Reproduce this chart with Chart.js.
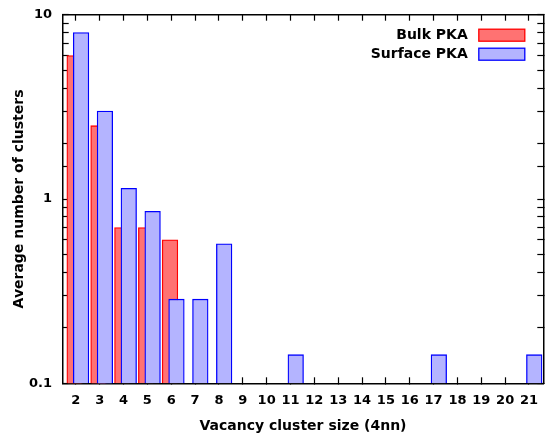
<!DOCTYPE html>
<html>
<head>
<meta charset="utf-8">
<script src="https://cdn.jsdelivr.net/npm/chart.js@4.4.0/dist/chart.umd.min.js"></script>
<style>
  html, body { margin: 0; padding: 0; background: #fff; }
</style>
</head>
<body>
<canvas id="clusterChart" width="549" height="436"></canvas>
<script>
// vacancy cluster sizes on the x axis
const clusterSizes = [2, 3, 4, 5, 6, 7, 8, 9, 10, 11, 12, 13, 14, 15, 16, 17, 18, 19, 20, 21];
// average number of clusters per cascade
const bulkPka    = [6.0, 2.5, 0.7, 0.7, 0.6, 0, 0, 0, 0, 0, 0, 0, 0, 0, 0, 0, 0, 0, 0, 0];
const surfacePka = [8.0, 3.0, 1.143, 0.857, 0.286, 0.286, 0.571, 0, 0, 0.143, 0, 0, 0, 0, 0, 0.143, 0, 0, 0, 0.143];
const yTickLabels = [0.1, 1, 10];

const fontFamily = "'DejaVu Sans', sans-serif";
Chart.defaults.font.family = fontFamily;
Chart.defaults.font.weight = 'bold';
Chart.defaults.color = '#000';

// the two series are drawn slightly apart and overlapping, like gnuplot does
const bulkShift = -0.05;
const surfaceShift = 0.22;

function toPoints(values, shift) {
    return values.map((v, i) => ({ x: clusterSizes[i] + shift, y: v }));
}

const tickMarks = {
    display: true,
    offset: false,
    drawOnChartArea: false,
    drawTicks: true,
    tickLength: -6,
    tickColor: '#000',
    tickWidth: 1.2
};
const frame = { display: true, color: '#000', width: 1.5 };

const insideLegend = {
    id: 'insideLegend',
    afterDraw(chart) {
        const { ctx, chartArea } = chart;
        ctx.save();
        ctx.font = `bold 14px ${fontFamily}`;
        ctx.textAlign = 'right';
        ctx.textBaseline = 'middle';
        chart.data.datasets.forEach((ds, i) => {
            const boxRight = chartArea.right - 18.5;
            const boxTop = chartArea.top + 14.5 + i * 19;
            ctx.fillStyle = ds.backgroundColor;
            ctx.fillRect(boxRight - 46, boxTop, 46, 12);
            ctx.strokeStyle = ds.borderColor;
            ctx.lineWidth = 1.3;
            ctx.strokeRect(boxRight - 46, boxTop, 46, 12);
            ctx.fillStyle = '#000';
            ctx.fillText(ds.label, boxRight - 57, boxTop + 6.5);
        });
        ctx.restore();
    }
};

const ctx = document.getElementById('clusterChart').getContext('2d');
new Chart(ctx, {
    type: 'bar',
    data: {
        datasets: [{
            label: 'Bulk PKA',
            data: toPoints(bulkPka, bulkShift),
            backgroundColor: '#ff7272',
            borderColor: '#ff0000',
            borderWidth: 1.3,
            order: 2
        }, {
            label: 'Surface PKA',
            data: toPoints(surfacePka, surfaceShift),
            backgroundColor: '#b4b4ff',
            borderColor: '#0000ff',
            borderWidth: 1.3,
            order: 1
        }]
    },
    options: {
        responsive: false,
        animation: false,
        grouped: false,
        barThickness: 15.6,
        layout: { padding: 0 },
        plugins: {
            legend: { display: false },
            tooltip: { enabled: false }
        },
        scales: {
            x: {
                type: 'linear',
                position: 'bottom',
                offset: false,
                min: 1.45,
                max: 21.6,
                grid: tickMarks,
                border: frame,
                ticks: {
                    stepSize: 1,
                    includeBounds: false,
                    autoSkip: false,
                    maxRotation: 0,
                    padding: 16,
                    font: { size: 13 },
                    callback: v => String(v)
                },
                title: {
                    display: true,
                    text: 'Vacancy cluster size (4nn)',
                    font: { size: 14 },
                    padding: { top: 0, bottom: 1 }
                },
                afterFit: s => { s.height = 52.7; s.paddingLeft = 0; s.paddingRight = 0; }
            },
            xTop: {
                type: 'linear',
                position: 'top',
                offset: false,
                min: 1.45,
                max: 21.6,
                grid: tickMarks,
                border: frame,
                ticks: { display: false, stepSize: 1, includeBounds: false },
                afterFit: s => { s.height = 14.7; s.paddingLeft = 0; s.paddingRight = 0; }
            },
            y: {
                type: 'logarithmic',
                position: 'left',
                min: 0.1,
                max: 10,
                grid: tickMarks,
                border: frame,
                ticks: {
                    autoSkip: false,
                    padding: 16.7,
                    font: { size: 13 },
                    callback: v => {
                        const hit = yTickLabels.find(t => Math.abs(t - v) < 1e-9);
                        return hit === undefined ? '' : String(hit);
                    }
                },
                title: {
                    display: true,
                    text: 'Average number of clusters',
                    font: { size: 14 },
                    padding: { top: 11, bottom: 0 }
                },
                afterFit: s => { s.width = 62.7; s.paddingTop = 0; s.paddingBottom = 0; }
            },
            yRight: {
                type: 'logarithmic',
                position: 'right',
                min: 0.1,
                max: 10,
                grid: tickMarks,
                border: frame,
                ticks: { display: false, autoSkip: false },
                afterFit: s => { s.width = 5.7; s.paddingTop = 0; s.paddingBottom = 0; }
            }
        }
    },
    plugins: [insideLegend]
});
</script>
</body>
</html>
